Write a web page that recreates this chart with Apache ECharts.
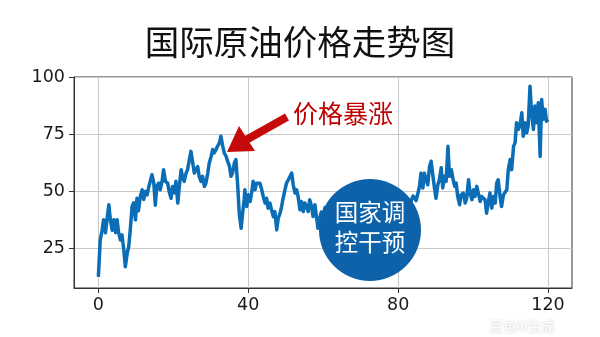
<!DOCTYPE html>
<html><head><meta charset="utf-8">
<script src="https://cdn.jsdelivr.net/npm/echarts@6/dist/echarts.min.js"></script>
<style>html,body{margin:0;padding:0;background:#fff}#c{width:600px;height:337px}</style>
</head><body><div id="c"></div>
<script>
const title = "国际原油价格走势图";
const xTicks = [0, 40, 80, 120];
const yTicks = [25, 50, 75, 100];
const xs = [0,0.5,1,1.4,1.9,2.4,2.8,3.2,3.7,4.1,4.6,5,5.4,5.9,6.3,6.8,7.2,7.7,8.1,8.5,9,9.4,9.9,10.3,10.7,11.2,11.7,12.1,12.5,13,13.4,13.9,14.3,14.8,15.2,15.6,16.1,16.5,17,17.4,17.9,18.5,18.9,19.4,19.8,20.3,20.7,21.2,21.6,22.1,22.5,22.9,23.4,23.8,24.3,24.7,25.2,25.6,26.1,26.5,26.9,27.4,27.8,28.3,28.7,29.2,29.6,30.1,30.5,30.9,31.4,31.8,32.3,32.7,33.2,33.6,34.1,34.5,35,35.4,35.8,36.3,36.7,37.2,37.6,38.1,38.5,38.9,39.1,39.6,40,40.5,40.9,41.3,41.8,42.2,42.7,43.1,43.6,44,44.5,44.9,45.3,45.8,46.2,46.7,47.1,47.6,48,48.5,48.9,49.3,49.8,50.2,50.7,51.1,51.6,52,52.5,52.9,53.3,53.8,54.2,54.7,55.1,55.6,56,56.4,56.9,57.3,57.8,58.2,58.6,59,59.5,60,60.5,61,61.5,62,63,64,65,66,67,68,69,70,71,72,73,74,75,76,77,78,79,80,81,82,83,84,84.8,85.3,85.7,86.1,86.6,87,87.5,87.9,88.4,88.8,89.3,89.7,90.1,90.6,91,91.5,91.9,92.4,92.8,93.3,93.7,94.2,94.6,95.1,95.5,95.9,96.4,96.8,97.4,97.9,98.3,98.8,99.2,99.7,100.1,100.5,101,101.4,101.9,102.3,102.8,103.2,103.6,104.1,104.5,105,105.4,105.9,106.3,106.7,107.2,107.6,108.1,108.5,109,109.4,109.9,110.3,110.8,111.2,111.6,112.1,112.5,113,113.4,113.9,114.3,114.7,115.2,115.6,116.1,116.5,117,117.4,117.9,118.3,118.7,119.2,119.6,120];
const prices = [12.7,28.8,33,37.6,31.9,39,44.2,37.6,33,37.6,32,37.6,32,28.8,31,24.4,17.1,23,25.9,33,43.4,45,37.6,47,41.5,47.8,50.7,46.5,50,48.5,51.6,52.3,57.3,53.6,44,52.3,53.6,50.7,54.4,59.5,54.4,53.6,50,47,52.2,49.4,54.4,44.9,52.2,59.5,55.8,54.4,58,59.5,63.9,67.5,62.4,58,59.5,60.9,56.6,54.4,56.6,52.2,53.6,58,62.4,65.3,68.3,66.8,68.3,69.7,71.2,74.1,69.7,66.8,65.3,63.1,60.9,56.6,58,62.4,63.9,52.2,40.5,33.9,40.5,46.4,50.7,43.4,48.5,45.6,49.3,54.4,50.7,53.6,52.9,53.6,50.7,47.8,44.9,47,42.7,44.9,42,39,41.2,33.2,38.3,40.5,43.4,47,50.7,53.6,55.1,55.1,58,52.9,49.3,50.7,47.8,42,45.6,41.2,44.9,43.4,41.2,46.4,43.4,39,44.2,39,33.9,38,41,39,43,40,44,41,45,42,46,43,40,44,41,45,42,46,44,41,45,43,47,44,40,44,42,46,44,48,46,49.3,52.2,58,51.5,58,55.1,52.9,61,63.2,56.6,51.5,47,52.9,55.1,60.3,51.5,56.6,54.4,69.7,56.6,59.5,55.8,52.2,53.6,47.8,44.2,48.5,49.3,44.9,47,55.1,49.3,46.4,50.7,47.8,52.2,49.3,45.6,47.8,48.5,46.4,40.5,45.6,49.3,42.7,47.8,44.9,53.6,55.1,47.8,43.4,48.5,49.3,50.7,59.5,63.9,59.5,69.7,71.2,80,77.1,78.6,84.4,74.1,80,75.6,78.6,96,84.4,77.1,87.3,80,88.8,65.3,90.2,81.5,85.9,80.7,81.5];
const annoText = "价格暴涨";
const circleLines = ["国家调", "控干预"];
const watermark = "豆包AI生成";

const data = xs.map((x, i) => [x, prices[i]]);
const chart = echarts.init(document.getElementById('c'), null, {renderer: 'canvas'});
const tickFont = {fontFamily: 'DejaVu Sans', fontSize: 17.5, color: '#1a1a1a'};
chart.setOption({
  animation: false,
  title: {text: title, left: 'center', top: 20, textStyle: {fontFamily: 'Noto Sans CJK SC', fontSize: 34.5, fontWeight: 'normal', color: '#111'}},
  grid: {left: 74, right: 28, top: 77, bottom: 49, show: true, borderColor: '#333', borderWidth: 1, backgroundColor: 'transparent'},
  xAxis: {type: 'value', min: -6.5, max: 126.4,
    axisLine: {show: true, onZero: false, lineStyle: {color: '#333'}},
    axisTick: {show: true, length: 5, customValues: xTicks, lineStyle: {color: '#333'}},
    axisLabel: Object.assign({customValues: xTicks, margin: 8}, tickFont),
    splitLine: {show: true, lineStyle: {color: '#c8c8c8', width: 1}}},
  yAxis: {type: 'value', min: 7.8, max: 100,
    axisLine: {show: true, onZero: false, lineStyle: {color: '#333'}},
    axisTick: {show: true, length: 5, customValues: yTicks, lineStyle: {color: '#333'}},
    axisLabel: Object.assign({customValues: yTicks, margin: 9}, tickFont),
    splitLine: {show: true, lineStyle: {color: '#c8c8c8', width: 1}}},
  series: [{type: 'line', data: data, showSymbol: false, symbol: 'none', smooth: false,
    lineStyle: {color: '#0b6db5', width: 3.5, join: 'round'}, z: 2}],
  graphic: [
    {type: 'line', shape: {x1: 287, y1: 117, x2: 246, y2: 140}, style: {stroke: '#c40a0a', lineWidth: 8}, z: 10},
    {type: 'polygon', shape: {points: [[227, 152], [239, 126], [255, 151]]}, style: {fill: '#c40a0a'}, z: 10},
    {type: 'text', style: {text: annoText, x: 343, y: 113, align: 'center', verticalAlign: 'middle', fontFamily: 'Noto Sans CJK SC', fontSize: 25, fill: '#c00000'}, z: 10},
    {type: 'circle', shape: {cx: 370, cy: 230, r: 51}, style: {fill: '#0d62aa'}, z: 10},
    {type: 'text', style: {text: circleLines.join('\n'), x: 370, y: 227, align: 'center', verticalAlign: 'middle', fontFamily: 'Noto Sans CJK SC', fontSize: 23.5, lineHeight: 30, fill: '#ffffff'}, z: 11},
    {type: 'text', style: {text: watermark, x: 522, y: 326, align: 'center', verticalAlign: 'middle', fontFamily: 'Noto Sans CJK SC', fontSize: 13, fontWeight: 'bold', fill: 'rgba(255,255,255,0.9)', textShadowColor: 'rgba(0,0,0,0.25)', textShadowBlur: 2}, z: 12}
  ]
});
</script></body></html>
